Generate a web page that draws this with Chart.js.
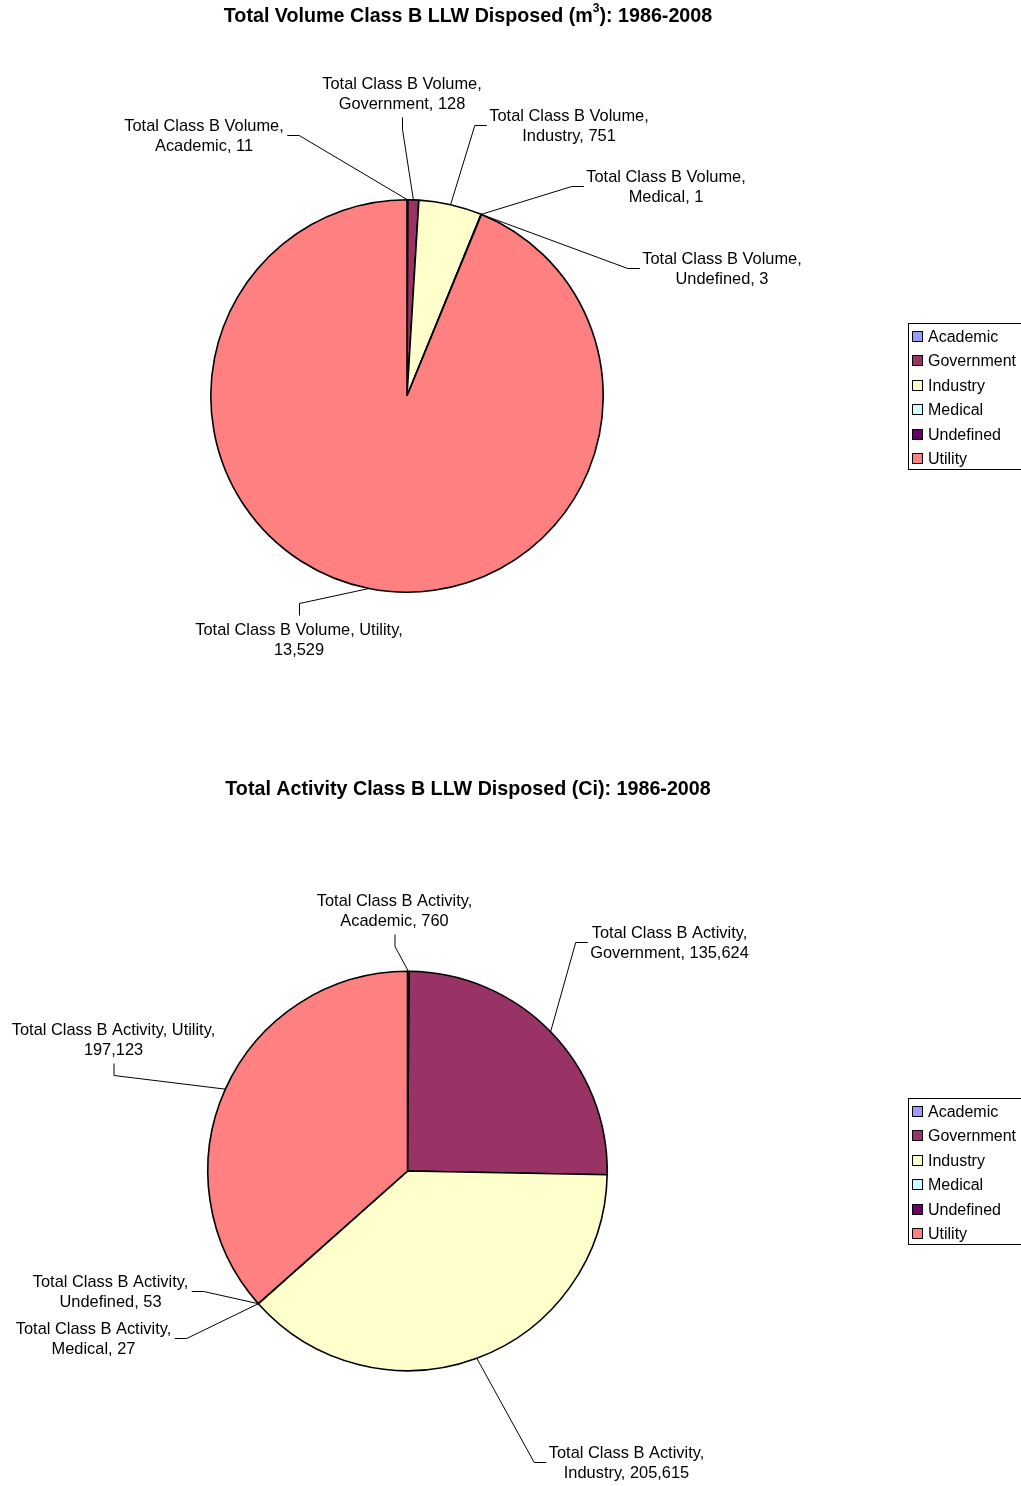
<!DOCTYPE html>
<html>
<head>
<meta charset="utf-8">
<script src="https://cdn.jsdelivr.net/npm/chart.js@4.4.1/dist/chart.umd.min.js"></script>
<style>
  body { margin: 0; background: #fff; }
  canvas { display: block; }
</style>
</head>
<body>
<canvas id="volumeChart" width="1021" height="743"></canvas>
<canvas id="activityChart" width="1021" height="743"></canvas>
<script>
const categories = ['Academic', 'Government', 'Industry', 'Medical', 'Undefined', 'Utility'];
const volumeValues = [11, 128, 751, 1, 3, 13529];
const activityValues = [760, 135624, 205615, 27, 53, 197123];
const sliceColors = ['#9999FF', '#993366', '#FFFFCC', '#CCFFFF', '#660066', '#FF8080'];

// where each data label sits, relative to the pie centre, and which side its leader leaves from
const volumeLabelSpots = [
    { dx: -203, dy: -261, tick: 'right' },
    { dx: -5, dy: -303, tick: 'bottom' },
    { dx: 162, dy: -271, tick: 'left' },
    { dx: 259, dy: -210, tick: 'left' },
    { dx: 315, dy: -128, tick: 'left' },
    { dx: -108, dy: 243, tick: 'top', wrapAfterName: true }
];
const activityLabelSpots = [
    { dx: -13, dy: -261, tick: 'bottom' },
    { dx: 262, dy: -229, tick: 'left' },
    { dx: 219, dy: 291, tick: 'left' },
    { dx: -314, dy: 167, tick: 'right' },
    { dx: -297, dy: 120, tick: 'right' },
    { dx: -294, dy: -132, tick: 'bottom', wrapAfterName: true }
];

const FONT = '"Liberation Sans", Arial, sans-serif';

const calloutPlugin = {
    id: 'callouts',
    afterDraw(chart, args, opts) {
        const ctx = chart.ctx;
        const meta = chart.getDatasetMeta(0);
        const values = chart.data.datasets[0].data;
        ctx.save();

        // title, with optional superscript pieces
        ctx.fillStyle = '#000';
        ctx.textBaseline = 'middle';
        ctx.textAlign = 'left';
        const bigFont = 'bold 19.7px ' + FONT;
        const supFont = 'bold 12px ' + FONT;
        let total = 0;
        opts.title.forEach(part => {
            ctx.font = part.sup ? supFont : bigFont;
            total += ctx.measureText(part.text).width;
        });
        let x = opts.titleX - total / 2;
        opts.title.forEach(part => {
            ctx.font = part.sup ? supFont : bigFont;
            ctx.fillText(part.text, x, part.sup ? opts.titleY - 8 : opts.titleY);
            x += ctx.measureText(part.text).width;
        });

        // data labels with leader lines
        ctx.font = '16.4px ' + FONT;
        ctx.textAlign = 'center';
        ctx.strokeStyle = '#000';
        ctx.lineWidth = 1;
        meta.data.forEach((arc, i) => {
            const spot = opts.spots[i];
            const valueText = values[i].toLocaleString('en-US');
            const lines = spot.wrapAfterName
                ? [opts.seriesName + ', ' + chart.data.labels[i] + ',', valueText]
                : [opts.seriesName + ',', chart.data.labels[i] + ', ' + valueText];
            const cx = arc.x + spot.dx;
            const cy = arc.y + spot.dy;
            ctx.fillText(lines[0], cx, cy - 9);
            ctx.fillText(lines[1], cx, cy + 11);

            const w = Math.max(ctx.measureText(lines[0]).width, ctx.measureText(lines[1]).width);
            let p1, p2;
            if (spot.tick === 'right') {
                p1 = [cx + w / 2 + 3, cy]; p2 = [cx + w / 2 + 15, cy];
            } else if (spot.tick === 'left') {
                p1 = [cx - w / 2 - 3, cy]; p2 = [cx - w / 2 - 15, cy];
            } else if (spot.tick === 'bottom') {
                p1 = [cx, cy + 24]; p2 = [cx, cy + 36];
            } else {
                p1 = [cx, cy - 24]; p2 = [cx, cy - 36];
            }
            const mid = (arc.startAngle + arc.endAngle) / 2;
            const ax = arc.x + Math.cos(mid) * arc.outerRadius;
            const ay = arc.y + Math.sin(mid) * arc.outerRadius;
            ctx.beginPath();
            ctx.moveTo(p1[0] + 0.5, p1[1] + 0.5);
            ctx.lineTo(p2[0] + 0.5, p2[1] + 0.5);
            ctx.lineTo(ax, ay);
            ctx.stroke();
        });

        // legend box, running off the right edge like the original
        const lx = opts.legendX, ly = opts.legendY;
        ctx.font = '16px ' + FONT;
        ctx.strokeRect(lx + 0.5, ly + 0.5, 130, 146);
        ctx.textAlign = 'left';
        chart.data.labels.forEach((label, i) => {
            const y = ly + 13.5 + i * 24.4;
            const top = Math.round(y - 5.5);
            ctx.fillStyle = chart.data.datasets[0].backgroundColor[i];
            ctx.fillRect(lx + 4, top, 11, 11);
            ctx.strokeRect(lx + 4.5, top + 0.5, 10, 10);
            ctx.fillStyle = '#000';
            ctx.fillText(label, lx + 20, y + 1);
        });
        ctx.restore();
    }
};

function makePie(canvasId, values, seriesName, title, titleY, spots, padding, legendY) {
    new Chart(document.getElementById(canvasId), {
        type: 'pie',
        data: {
            labels: categories,
            datasets: [{
                data: values,
                backgroundColor: sliceColors,
                borderColor: '#000',
                borderWidth: 1.6
            }]
        },
        options: {
            responsive: false,
            animation: false,
            layout: { padding: padding },
            plugins: {
                legend: { display: false },
                tooltip: { enabled: false },
                callouts: {
                    title: title,
                    titleX: 468,
                    titleY: titleY,
                    seriesName: seriesName,
                    spots: spots,
                    legendX: 908,
                    legendY: legendY
                }
            }
        },
        plugins: [calloutPlugin]
    });
}

makePie('volumeChart', volumeValues, 'Total Class B Volume',
    [{ text: 'Total Volume Class B LLW Disposed (m' }, { text: '3', sup: true }, { text: '): 1986-2008' }],
    17, volumeLabelSpots,
    { left: 210, right: 417, top: 199, bottom: 150 }, 323);

makePie('activityChart', activityValues, 'Total Class B Activity',
    [{ text: 'Total Activity Class B LLW Disposed (Ci): 1986-2008' }],
    47, activityLabelSpots,
    { left: 207, right: 413, top: 227, bottom: 114 }, 355);
</script>
</body>
</html>
